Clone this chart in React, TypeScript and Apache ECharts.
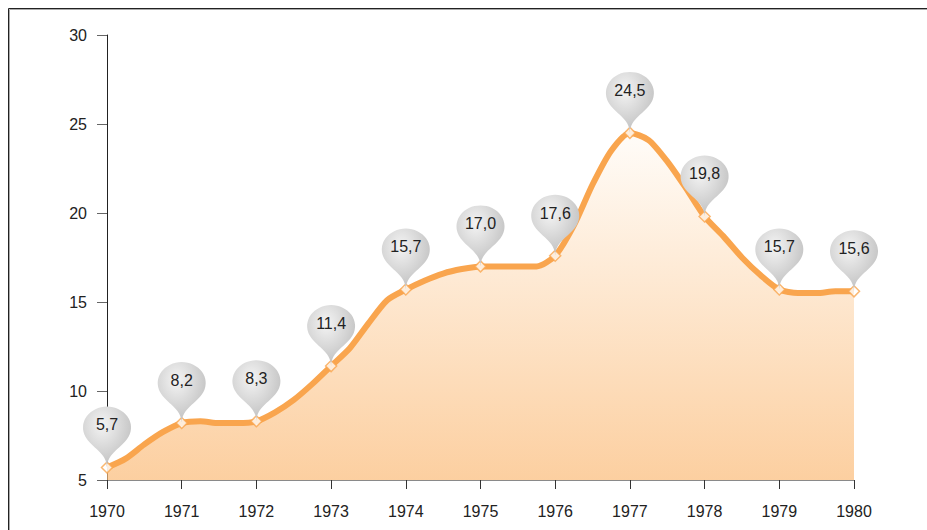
import React, { useEffect, useRef } from "react";
import * as echarts from "echarts";

const years = [1970, 1971, 1972, 1973, 1974, 1975, 1976, 1977, 1978, 1979, 1980];
const yearValues = [5.7, 8.2, 8.3, 11.4, 15.7, 17.0, 17.6, 24.5, 19.8, 15.7, 15.6];
const pinLabels = ["5,7", "8,2", "8,3", "11,4", "15,7", "17,0", "17,6", "24,5", "19,8", "15,7", "15,6"];

const lineX = [
  1970, 1970.25, 1970.5, 1970.75, 1971, 1971.25, 1971.5, 1971.75, 1972, 1972.25, 1972.5, 1972.75,
  1973, 1973.25, 1973.5, 1973.75, 1974, 1974.25, 1974.5, 1974.75, 1975, 1975.25, 1975.5, 1975.75,
  1976, 1976.25, 1976.5, 1976.75, 1977, 1977.25, 1977.5, 1977.75, 1978, 1978.25, 1978.5, 1978.75,
  1979, 1979.25, 1979.5, 1979.75, 1980,
];
const lineY = [
  5.7, 6.2, 7.0, 7.7, 8.2, 8.3, 8.2, 8.2, 8.3, 8.8, 9.5, 10.4,
  11.4, 12.4, 13.8, 15.1, 15.7, 16.2, 16.6, 16.85, 17.0, 17.0, 17.0, 17.0,
  17.6, 19.3, 21.6, 23.5, 24.5, 24.1, 22.9, 21.4, 19.8, 18.7, 17.5, 16.5,
  15.7, 15.5, 15.5, 15.6, 15.6,
];
const yTicks = { min: 5, max: 30, interval: 5 };

export default function App() {
  const ref = useRef<HTMLDivElement>(null);
  useEffect(() => {
    if (!ref.current) return;
    const chart = echarts.init(ref.current, null, { renderer: "svg" });
    const font = "'Liberation Sans', Arial, sans-serif";
    chart.setOption({
      animation: false,
      backgroundColor: "#ffffff",
      grid: { left: 107, right: 73, top: 35, bottom: 50, containLabel: false },
      xAxis: {
        type: "value",
        min: 1970,
        max: 1980,
        interval: 1,
        axisLine: { show: true, lineStyle: { color: "#8a8a8a", width: 1 } },
        axisTick: { show: true, length: 9, lineStyle: { color: "#333", width: 1 } },
        axisLabel: {
          margin: 23,
          color: "#222",
          fontSize: 16,
          fontFamily: font,
          formatter: (v: number) => String(v),
        },
        splitLine: { show: false },
      },
      yAxis: {
        type: "value",
        min: yTicks.min,
        max: yTicks.max,
        interval: yTicks.interval,
        axisLine: { show: true, lineStyle: { color: "#222", width: 1 } },
        axisTick: { show: true, length: 10, lineStyle: { color: "#666", width: 1 } },
        axisLabel: { margin: 20, color: "#222", fontSize: 16, fontFamily: font },
        splitLine: { show: false },
      },
      graphic: [
        { type: "line", shape: { x1: 8.5, y1: 8.5, x2: 927, y2: 8.5 }, style: { stroke: "#222", lineWidth: 1 } },
        { type: "line", shape: { x1: 8.5, y1: 8.5, x2: 8.5, y2: 530 }, style: { stroke: "#222", lineWidth: 1 } },
        { type: "line", shape: { x1: 9.5, y1: 9.5, x2: 927, y2: 9.5 }, style: { stroke: "#aaa", lineWidth: 1 } },
        { type: "line", shape: { x1: 9.5, y1: 9.5, x2: 9.5, y2: 530 }, style: { stroke: "#aaa", lineWidth: 1 } },
      ],
      series: [
        {
          type: "line",
          data: lineX.map((x, i) => [x, lineY[i]]),
          smooth: 0.25,
          showSymbol: false,
          symbol: "none",
          lineStyle: { color: "#F9A54E", width: 6 },
          areaStyle: {
            origin: "start",
            color: new echarts.graphic.LinearGradient(0, 0, 0, 1, [
              { offset: 0, color: "#FFFBF6" },
              { offset: 1, color: "#FBBB78" },
            ]),
          },
          z: 2,
        },
        {
          type: "scatter",
          data: years.map((x, i) => [x, yearValues[i]]),
          symbol: "diamond",
          symbolSize: 11,
          itemStyle: { color: "#ffffff", borderColor: "#F9A54E", borderWidth: 1.5 },
          z: 4,
          markPoint: {
            symbol: "pin",
            symbolSize: [80, 70],
            itemStyle: {
              color: new echarts.graphic.RadialGradient(0.4, 0.3, 0.8, [
                { offset: 0, color: "#f4f4f4" },
                { offset: 1, color: "#b9b9b9" },
              ]),
            },
            label: {
              show: true,
              color: "#222",
              fontSize: 16,
              fontFamily: font,
              offset: [0, -6],
              formatter: (p: any) => p.data.label,
            },
            data: years.map((x, i) => ({ coord: [x, yearValues[i]], value: yearValues[i], label: pinLabels[i] })),
          },
        },
      ],
    });
    return () => chart.dispose();
  }, []);
  return (
    <div style={{ position: "fixed", left: 0, top: 0, width: 927, height: 530, overflow: "hidden" }}>
      <div ref={ref} style={{ width: 927, height: 530 }} />
    </div>
  );
}
